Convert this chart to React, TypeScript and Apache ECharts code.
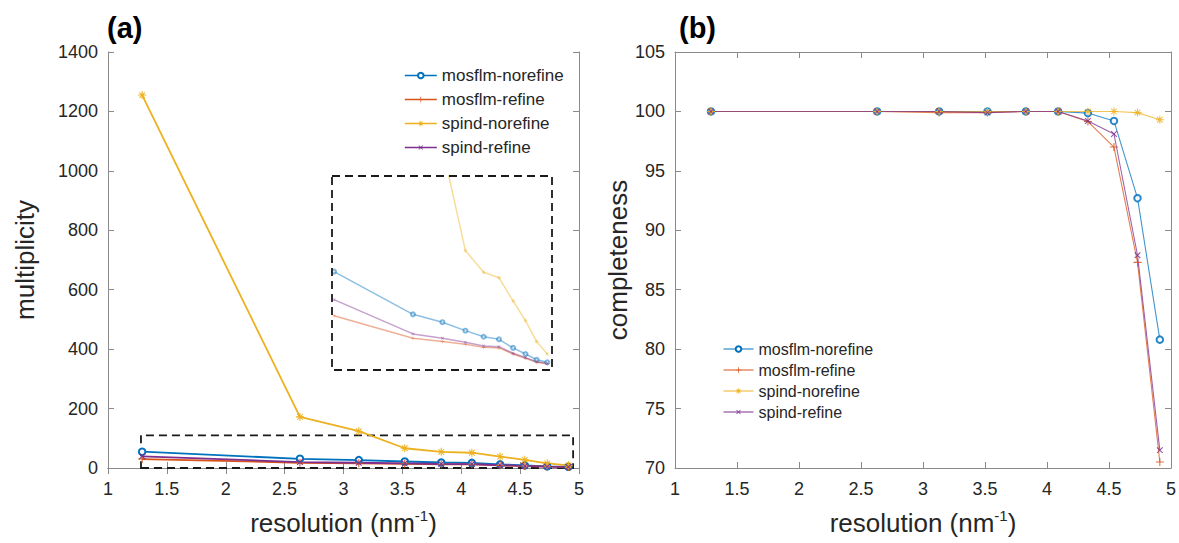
import React, { useEffect, useRef } from "react";
import * as echarts from "echarts";

const resolution = [1.29, 2.63, 3.13, 3.52, 3.83, 4.09, 4.33, 4.54, 4.73, 4.91];
const seriesNames = ["mosflm-norefine", "mosflm-refine", "spind-norefine", "spind-refine"];
const multMosflmNorefine = [54.8, 31.0, 26.6, 21.9, 18.5, 17.1, 12.3, 8.9, 5.7, 4.3];
const multMosflmRefine = [30.2, 17.7, 15.8, 14.3, 12.6, 12.3, 8.9, 6.5, 4.3, 3.3];
const multSpindNorefine = [1255, 172, 124, 66.5, 54.4, 51.4, 38.4, 27.5, 15.8, 8.9];
const multSpindRefine = [39.2, 20.1, 17.7, 15.4, 13.4, 13.0, 9.3, 6.9, 4.6, 3.7];
const compMosflmNorefine = [100, 100, 100, 100, 100, 100, 99.86, 99.2, 92.7, 80.8];
const compMosflmRefine = [100, 100, 99.9, 99.9, 100, 100, 99.15, 97.0, 87.3, 70.5];
const compSpindNorefine = [100, 100, 100, 100, 100, 100, 100, 100, 99.9, 99.3];
const compSpindRefine = [100, 100, 100, 99.9, 100, 100, 99.2, 98.1, 87.9, 71.5];
const zoomBox = { x0: 1.28, x1: 4.95, y0: 0, y1: 110 };

const colors = ["#0072BD", "#D95319", "#EDB120", "#7E2F8E"];
const PLUS = "path://M-1,-0.13H-0.13V-1H0.13V-0.13H1V0.13H0.13V1H-0.13V0.13H-1Z";
const STAR =
  "path://M-1,-0.13H1V0.13H-1Z M-0.13,-1H0.13V1H-0.13Z M-0.792,-0.622L-0.622,-0.792L0.792,0.622L0.622,0.792Z M0.792,-0.622L-0.622,0.792L-0.792,0.622L0.622,-0.792Z";
const symbols = ["emptyCircle", PLUS, STAR, PLUS];
const rotations = [0, 0, 0, 45];
const sizes = [6.5, 8, 8, 8];

const FONT = "'Liberation Sans', Arial, Helvetica, sans-serif";
const AXIS_COLOR = "#8a8a8a";
const TEXT_COLOR = "#262626";

export default function App() {
  const ref = useRef<HTMLDivElement>(null);
  useEffect(() => {
    document.body.style.margin = "0";
    const chart = echarts.init(ref.current!, null, { renderer: "svg" });
    const mult = [multMosflmNorefine, multMosflmRefine, multSpindNorefine, multSpindRefine];
    const comp = [compMosflmNorefine, compMosflmRefine, compSpindNorefine, compSpindRefine];
    const pairs = (ys: number[]) => resolution.map((x, i) => [x, ys[i]]);

    const xBase = (gridIndex: number, name: string) => [
      {
        type: "value",
        gridIndex,
        min: 1,
        max: 5,
        interval: 0.5,
        position: "bottom",
        name,
        nameLocation: "middle",
        nameGap: 40,
        nameTextStyle: {
          fontFamily: FONT,
          fontSize: 26,
          color: TEXT_COLOR,
          rich: {
            sup: { fontFamily: FONT, fontSize: 15, color: TEXT_COLOR, verticalAlign: "top", lineHeight: 30 },
          },
        },
        axisLine: { show: true, lineStyle: { color: AXIS_COLOR, width: 1 } },
        axisTick: { show: true, inside: true, length: 6, lineStyle: { color: AXIS_COLOR } },
        axisLabel: { fontFamily: FONT, fontSize: 18, color: TEXT_COLOR, margin: 12, formatter: (v: number) => String(v) },
        splitLine: { show: false },
      },
      {
        type: "value",
        gridIndex,
        min: 1,
        max: 5,
        interval: 0.5,
        position: "top",
        axisLine: { show: true, lineStyle: { color: AXIS_COLOR, width: 1 } },
        axisTick: { show: true, inside: true, length: 6, lineStyle: { color: AXIS_COLOR } },
        axisLabel: { show: false },
        splitLine: { show: false },
      },
    ];
    const yBase = (gridIndex: number, min: number, max: number, interval: number, name: string, gap: number) => [
      {
        type: "value",
        gridIndex,
        min,
        max,
        interval,
        position: "left",
        name,
        nameLocation: "middle",
        nameGap: gap,
        nameTextStyle: { fontFamily: FONT, fontSize: 26, color: TEXT_COLOR },
        axisLine: { show: true, lineStyle: { color: AXIS_COLOR, width: 1 } },
        axisTick: { show: true, inside: true, length: 6, lineStyle: { color: AXIS_COLOR } },
        axisLabel: { fontFamily: FONT, fontSize: 18, color: TEXT_COLOR, margin: 10, formatter: (v: number) => String(v) },
        splitLine: { show: false },
      },
      {
        type: "value",
        gridIndex,
        min,
        max,
        interval,
        position: "right",
        axisLine: { show: true, lineStyle: { color: AXIS_COLOR, width: 1 } },
        axisTick: { show: true, inside: true, length: 6, lineStyle: { color: AXIS_COLOR } },
        axisLabel: { show: false },
        splitLine: { show: false },
      },
    ];

    const series: any[] = [];
    seriesNames.forEach((name, k) => {
      const s: any = {
        type: "line",
        name,
        xAxisIndex: 0,
        yAxisIndex: 0,
        data: pairs(mult[k]),
        symbol: symbols[k],
        symbolRotate: rotations[k],
        symbolSize: sizes[k],
        lineStyle: { color: colors[k], width: 1.8 },
        itemStyle: { color: colors[k], borderColor: colors[k], borderWidth: k === 0 ? 1.3 : 0 },
        z: 3,
      };
      if (k === 0) {
        s.markArea = {
          silent: true,
          itemStyle: { color: "rgba(0,0,0,0)", borderColor: "#1a1a1a", borderWidth: 1.8, borderType: [8, 5] },
          data: [[{ coord: [zoomBox.x0, zoomBox.y0] }, { coord: [zoomBox.x1, zoomBox.y1] }]],
        };
      }
      series.push(s);
    });
    seriesNames.forEach((name, k) => {
      series.push({
        type: "line",
        name: "inset-" + name,
        xAxisIndex: 4,
        yAxisIndex: 4,
        data: pairs(mult[k]),
        symbol: symbols[k],
        symbolRotate: rotations[k],
        symbolSize: 4,
        clip: true,
        lineStyle: { color: colors[k], width: 1.5, opacity: 0.45 },
        itemStyle: { color: colors[k], borderColor: colors[k], borderWidth: k === 0 ? 1 : 0, opacity: 0.5 },
        z: 3,
      });
    });
    seriesNames.forEach((name, k) => {
      series.push({
        type: "line",
        name,
        xAxisIndex: 2,
        yAxisIndex: 2,
        data: pairs(comp[k]),
        symbol: symbols[k],
        symbolRotate: rotations[k],
        symbolSize: sizes[k],
        lineStyle: { color: colors[k], width: 1.1, opacity: 0.75 },
        itemStyle: { color: colors[k], borderColor: colors[k], borderWidth: k === 0 ? 1.2 : 0, opacity: 0.85 },
        z: 3,
      });
    });

    const legendData = (w: number) => seriesNames.map((n) => ({ name: n, lineStyle: { width: w } }));

    chart.setOption({
      animation: false,
      backgroundColor: "#ffffff",
      title: [
        { text: "(a)", left: 102, top: 8, textStyle: { fontFamily: FONT, fontSize: 29, fontWeight: "bold", color: "#000" } },
        { text: "(b)", left: 674, top: 8, textStyle: { fontFamily: FONT, fontSize: 29, fontWeight: "bold", color: "#000" } },
      ],
      grid: [
        { left: 108, top: 52, width: 471, height: 416 },
        { left: 675, top: 52, width: 496, height: 416 },
        { left: 332, top: 176, width: 220, height: 194 },
      ],
      xAxis: [
        ...xBase(0, "resolution (nm{sup|-1})"),
        ...xBase(1, "resolution (nm{sup|-1})"),
        { type: "value", gridIndex: 2, min: 1.256, max: 4.99, show: false },
      ],
      yAxis: [
        ...yBase(0, 0, 1400, 200, "multiplicity", 70),
        ...yBase(1, 70, 105, 5, "completeness", 40),
        { type: "value", gridIndex: 2, min: 0, max: 108, show: false },
      ],
      legend: [
        {
          orient: "vertical",
          left: 399,
          top: 62,
          itemWidth: 32,
          itemHeight: 7,
          itemGap: 7,
          data: legendData(1.6),
          textStyle: { fontFamily: FONT, fontSize: 17, color: TEXT_COLOR },
          selectedMode: false,
        },
        {
          orient: "vertical",
          left: 718,
          top: 336,
          itemWidth: 30,
          itemHeight: 7,
          itemGap: 5,
          data: legendData(1),
          textStyle: { fontFamily: FONT, fontSize: 16, color: TEXT_COLOR },
          selectedMode: false,
        },
      ],
      graphic: [
        {
          type: "rect",
          shape: { x: 332, y: 176, width: 220, height: 194 },
          style: { fill: "none", stroke: "#1a1a1a", lineWidth: 1.8, lineDash: [8, 5] },
          z: 10,
        },
      ],
      series,
    });
    return () => chart.dispose();
  }, []);
  return <div ref={ref} style={{ position: "fixed", left: 0, top: 0, width: 1179, height: 543 }} />;
}
